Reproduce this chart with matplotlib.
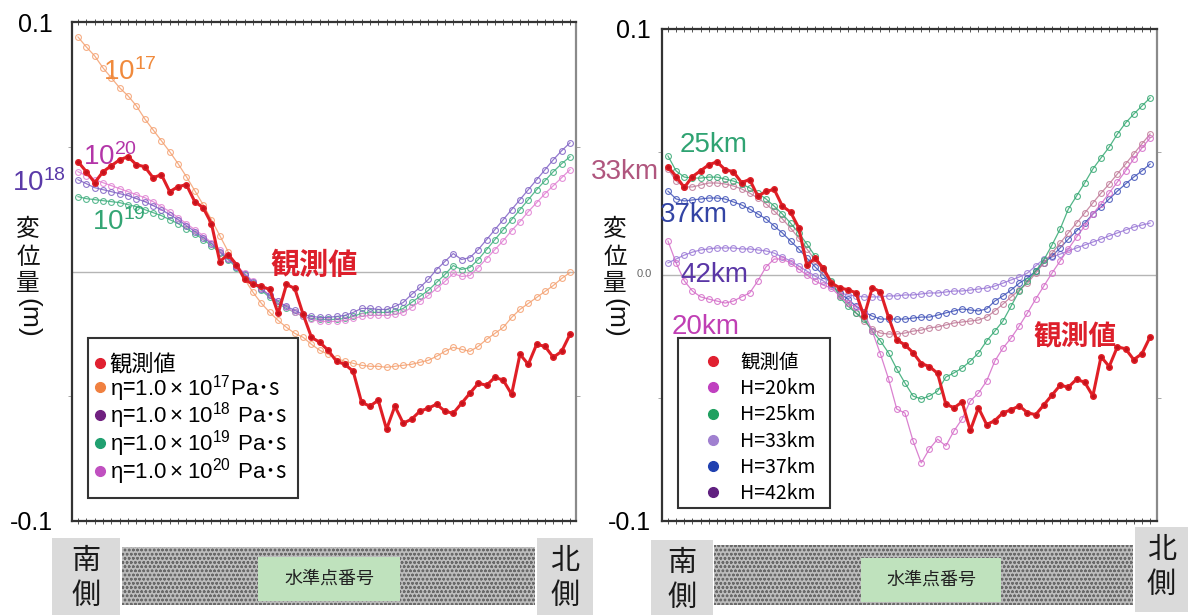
import numpy as np
import matplotlib
matplotlib.use("Agg")
import matplotlib.pyplot as plt
from matplotlib.lines import Line2D
from matplotlib.patches import Rectangle

plt.rcParams['font.family'] = ['Liberation Sans', 'Noto Sans CJK JP', 'DejaVu Sans']
plt.rcParams['mathtext.fontset'] = 'custom'
plt.rcParams['mathtext.rm'] = 'Liberation Sans'
plt.rcParams['mathtext.default'] = 'regular'
plt.rcParams['hatch.linewidth'] = 0.7

JP = 'Noto Sans CJK JP'

# vertical displacement at each leveling station, south -> north (mm)
observed = [44.0, 40.0, 35.6, 40.0, 42.4, 44.8, 46.0, 42.8, 42.0, 37.6,
            38.8, 32.0, 34.0, 34.8, 28.0, 25.6, 19.2, 4.0, 6.8, 2.8,
            -3.2, -5.2, -6.0, -7.2, -16.8, -5.2, -6.8, -17.2, -26.4, -28.4,
            -31.6, -36.0, -37.2, -40.0, -52.4, -54.0, -51.6, -63.2, -54.0, -60.8,
            -59.2, -56.0, -54.8, -53.2, -56.0, -56.8, -52.8, -48.8, -44.8, -45.6,
            -42.4, -43.6, -49.2, -33.2, -37.2, -29.2, -30.0, -34.4, -32.0, -25.2]

# viscosity runs (left panel)
visc_1e17 = [94.0, 90.0, 86.4, 81.6, 77.6, 73.6, 70.4, 66.4, 61.2, 56.8,
             52.4, 48.0, 43.2, 38.0, 32.4, 26.8, 20.8, 14.4, 8.0, 2.4,
             -3.2, -8.4, -12.8, -16.4, -19.6, -22.4, -24.8, -26.4, -29.2, -31.6,
             -33.2, -34.8, -36.0, -36.8, -37.6, -38.0, -38.0, -38.4, -38.0, -37.6,
             -37.2, -36.4, -35.6, -34.0, -32.0, -30.4, -31.2, -32.0, -30.0, -27.2,
             -24.8, -22.4, -18.4, -15.2, -12.8, -10.4, -8.0, -5.6, -2.8, -0.4]
visc_1e18 = [36.8, 35.2, 33.6, 32.8, 32.0, 31.2, 30.4, 29.2, 28.0, 26.4,
             24.8, 22.8, 20.8, 18.4, 16.0, 13.6, 11.2, 8.0, 5.2, 2.0,
             -1.2, -4.4, -7.2, -9.6, -12.0, -14.0, -15.6, -17.2, -18.0, -18.4,
             -18.4, -18.0, -17.6, -16.4, -14.8, -14.8, -15.2, -15.2, -14.0, -12.4,
             -9.2, -6.4, -3.2, 0.8, 4.0, 7.2, 4.8, 5.6, 8.8, 12.8,
             16.8, 20.8, 24.8, 28.8, 32.8, 36.8, 40.8, 44.8, 48.4, 51.6]
visc_1e19 = [30.0, 29.2, 28.8, 28.4, 28.0, 27.6, 26.8, 26.0, 24.8, 23.6,
             22.4, 20.8, 19.2, 17.2, 15.2, 12.8, 10.4, 7.6, 4.8, 1.6,
             -1.6, -4.8, -7.6, -10.4, -12.8, -14.8, -16.4, -18.0, -18.8, -19.2,
             -19.2, -19.2, -18.8, -18.0, -16.8, -16.4, -16.4, -16.4, -16.0, -14.8,
             -12.4, -10.0, -7.6, -4.4, -1.2, 2.4, 0.8, 1.6, 4.8, 8.8,
             12.8, 16.8, 20.8, 24.8, 28.8, 32.8, 36.4, 40.0, 43.2, 46.0]
visc_1e20 = [40.0, 38.4, 36.8, 35.6, 34.4, 33.2, 32.0, 30.8, 29.6, 28.0,
             26.0, 24.0, 21.6, 19.2, 16.8, 14.4, 11.6, 8.8, 5.6, 2.4,
             -0.8, -4.0, -6.8, -9.6, -12.0, -14.4, -16.4, -18.0, -19.2, -20.0,
             -20.0, -20.0, -19.6, -18.8, -18.0, -17.6, -17.6, -17.6, -17.2, -16.4,
             -14.4, -12.0, -9.6, -6.8, -4.0, -0.8, -2.0, -1.6, 1.6, 5.2,
             8.8, 12.4, 16.4, 20.0, 24.0, 27.6, 31.2, 34.4, 37.6, 40.8]

# depth runs (right panel)
depth_20 = [13.8, 4.9, -2.4, -6.5, -8.9, -9.8, -10.6, -11.4, -10.6, -8.9,
            -7.3, -2.4, 3.3, 6.5, 6.5, 4.9, 2.4, 0.0, -2.4, -4.1,
            -5.3, -8.5, -11.4, -13.0, -15.4, -22.8, -32.1, -42.3, -54.5, -56.1,
            -67.5, -76.4, -70.7, -66.7, -69.5, -63.4, -58.5, -51.2, -48.0, -43.1,
            -35.0, -29.7, -25.6, -20.7, -15.4, -9.8, -4.5, 0.8, 5.7, 10.6,
            15.4, 19.9, 24.8, 28.9, 33.3, 37.8, 42.3, 47.2, 51.6, 55.7]
depth_25 = [48.4, 42.3, 39.8, 39.4, 39.4, 39.8, 39.8, 39.0, 38.2, 37.0,
            35.4, 33.3, 30.9, 28.0, 24.8, 21.1, 17.1, 12.6, 7.7, 2.8,
            -2.4, -8.9, -12.6, -15.4, -17.9, -22.8, -26.8, -31.7, -38.2, -43.9,
            -49.2, -50.4, -49.2, -47.2, -41.5, -39.8, -37.8, -35.0, -31.7, -26.8,
            -22.8, -18.7, -12.6, -6.5, -2.4, 1.6, 6.1, 12.2, 18.7, 26.8,
            32.1, 37.4, 43.1, 47.6, 52.0, 57.3, 61.8, 65.4, 68.7, 72.0]
depth_33 = [43.1, 38.2, 35.8, 35.8, 36.6, 37.4, 37.4, 37.0, 36.2, 35.0,
            33.3, 31.3, 28.9, 26.0, 22.8, 19.1, 15.0, 10.6, 6.1, 1.6,
            -2.8, -8.1, -11.4, -15.4, -18.7, -22.0, -23.6, -24.0, -24.0, -23.6,
            -22.8, -22.4, -21.5, -21.1, -20.3, -19.5, -19.1, -18.7, -18.3, -17.1,
            -14.6, -11.8, -8.9, -6.1, -3.3, 0.8, 4.9, 8.9, 13.0, 17.1,
            21.1, 25.2, 29.3, 33.3, 37.0, 41.1, 45.1, 49.2, 53.3, 57.3]
depth_37 = [34.1, 30.9, 30.1, 30.5, 30.9, 31.3, 31.3, 30.9, 29.7, 28.5,
            26.8, 24.8, 22.8, 19.9, 17.1, 13.8, 10.6, 6.9, 3.3, 0.0,
            -3.7, -7.3, -9.8, -12.6, -15.0, -16.7, -17.9, -17.9, -17.9, -17.9,
            -17.5, -17.1, -17.1, -16.3, -15.4, -14.6, -13.8, -14.2, -14.6, -13.8,
            -10.6, -8.5, -6.1, -3.3, -1.2, 1.6, 4.9, 7.7, 11.0, 14.6,
            17.9, 21.1, 24.8, 27.6, 30.9, 34.1, 37.0, 39.8, 42.3, 45.1]
depth_42 = [4.9, 6.5, 8.1, 9.3, 10.2, 10.6, 11.0, 11.0, 11.0, 10.6,
            10.6, 10.2, 9.8, 8.9, 7.3, 5.7, 3.7, 1.6, -0.4, -2.4,
            -4.5, -7.3, -8.1, -8.5, -8.9, -8.9, -8.9, -8.5, -8.5, -8.1,
            -8.1, -7.7, -7.3, -7.3, -6.9, -6.5, -6.5, -6.1, -5.7, -5.3,
            -4.5, -3.3, -2.0, -0.8, 0.8, 3.7, 6.5, 7.3, 8.5, 9.8,
            11.0, 12.2, 13.4, 14.6, 15.9, 17.1, 18.3, 19.5, 20.3, 21.1]

visc_labels = ['観測値',
               r'$\mathrm{η}$=$\mathrm{1.0\times10^{17}Pa}$･s',
               r'$\mathrm{η}$=$\mathrm{1.0\times10^{18}\ Pa}$･s',
               r'$\mathrm{η}$=$\mathrm{1.0\times10^{19}\ Pa}$･s',
               r'$\mathrm{η}$=$\mathrm{1.0\times10^{20}\ Pa}$･s']
depth_labels = ['観測値', 'H=20km', 'H=25km', 'H=33km', 'H=37km', 'H=42km']

station = np.arange(len(observed))
W, H = 1188, 615

fig = plt.figure(figsize=(W / 100, H / 100), dpi=100)
axL = fig.add_axes([72 / W, 1 - 521 / H, 504 / W, 499 / H])
axR = fig.add_axes([662 / W, 1 - 521 / H, 495 / W, 492 / H])


def style_axis(ax, lo, hi, pad):
    ax.set_xlim(lo, hi)
    ax.set_ylim(-0.1, 0.1)
    ax.axhline(0, color='#b5b5b5', lw=1.0, zorder=1)
    ax.set_xticks(station)
    ax.tick_params(axis='x', direction='inout', length=5, width=0.7,
                   color='#555555', top=True, labelbottom=False)
    ax.set_yticks([-0.1, 0.1], ['-0.1', '0.1'])
    ax.set_yticks([-0.05, 0.05], minor=True)
    ax.tick_params(axis='y', which='major', labelsize=18, length=0, pad=pad)
    ax.tick_params(axis='y', which='minor', length=3, color='#999999', right=True)
    for s in ax.spines.values():
        s.set_color('#333333')
        s.set_linewidth(1.6)
    ax.spines['right'].set_color('#8a8a8a')


def model(ax, vals, color):
    ax.plot(station, np.asarray(vals) / 1000, color=color, lw=0.9, marker='o',
            ms=4.2, mfc='none', mew=0.8, alpha=0.85, zorder=2)


def obs(ax):
    ax.plot(station, np.asarray(observed) / 1000, color='#e01f26', lw=2.2,
            marker='o', ms=4, mfc='#c4121c', mec='#e01f26', zorder=4)


style_axis(axL, -0.72, 59.72, 14)
style_axis(axR, -0.73, 59.85, 8)

model(axL, visc_1e17, '#f4a070')
model(axL, visc_1e19, '#3fae7e')
model(axL, visc_1e20, '#e07fd2')
model(axL, visc_1e18, '#8062c4')
obs(axL)

model(axR, depth_42, '#9a78d6')
model(axR, depth_37, '#4052b8')
model(axR, depth_33, '#c07a98')
model(axR, depth_25, '#34a872')
model(axR, depth_20, '#d46cc8')
obs(axR)

# legends (marker-only entries)
hL = [Line2D([], [], ls='', marker='o', ms=7, color=c)
      for c in ['#e02030', '#f08040', '#702080', '#20a070', '#c050c0']]
axL.legend(hL, visc_labels, loc='upper left', bbox_to_anchor=(0.045, 0.337),
           frameon=False, borderpad=0, borderaxespad=0, handlelength=0.5,
           handletextpad=0.18, labelspacing=-0.14, prop={'family': JP, 'size': 16})
hR = [Line2D([], [], ls='', marker='o', ms=7, color=c)
      for c in ['#e02030', '#c040c0', '#20a060', '#a080d0', '#2040b0', '#602080']]
axR.legend(hR, depth_labels, loc='upper left', bbox_to_anchor=(0.0834, 0.3435),
           frameon=False, borderpad=0, borderaxespad=0, handlelength=1.0,
           handletextpad=0.89, labelspacing=0.27, prop={'family': JP, 'size': 14})

# overlay in pixel units for annotations and the station strip
ov = fig.add_axes([0, 0, 1, 1], zorder=5)
ov.set_xlim(0, W)
ov.set_ylim(H, 0)
ov.axis('off')
ov.patch.set_visible(False)

ov.add_patch(Rectangle((88, 338), 210, 160, fc='none', ec='#333333', lw=1.5))
ov.add_patch(Rectangle((678, 338), 152, 170, fc='none', ec='#333333', lw=1.5))

# zero label of the right panel
ov.text(652, 274, '0.0', fontsize=8, color='#666666', ha='right', va='center')

# curve labels, left panel
for x, y, s, c in [(103, 72, '10$^{17}$', '#f08a3c'),
                   (83, 157, '10$^{20}$', '#b335a8'),
                   (12, 183, '10$^{18}$', '#5a3aa8'),
                   (92, 222, '10$^{19}$', '#33a574')]:
    ov.text(x, y, s, color=c, fontsize=20, family='Liberation Sans', ha='left', va='center')
ov.text(270, 265, '観測値', color='#dd1f2b', fontsize=21, family=JP,
        fontweight='bold', ha='left', va='center')

# curve labels, right panel
for x, y, s, c in [(680, 145, '25km', '#2fa372'),
                   (591, 172, '33km', '#b0567e'),
                   (660, 215, '37km', '#3344a4'),
                   (680, 275, '42km', '#5a36a6'),
                   (672, 327, '20km', '#c03fb4')]:
    ov.text(x, y, s, color=c, fontsize=20, family='Liberation Sans', ha='left', va='center')
ov.text(1033, 336, '観測値', color='#dd1f2b', fontsize=20, family=JP,
        fontweight='bold', ha='left', va='center')

# vertical axis titles
for x0 in (28, 615):
    for y, ch in [(230, '変'), (257, '位'), (283, '量')]:
        ov.text(x0, y, ch, fontsize=17, family=JP, ha='center', va='center', color='#111111')
    ov.text(x0, 318, '(m)', fontsize=19, rotation=270, ha='center', va='center', color='#111111')

# station-number strips under each panel
strips = [dict(south=(52, 538, 68, 77), band=(122, 547, 413, 58),
               tag=(258, 557, 142, 44), north=(537, 538, 56, 77)),
          dict(south=(651, 540, 62, 75), band=(714, 545, 419, 60),
               tag=(861, 558, 140, 44), north=(1135, 527, 53, 85))]
for st in strips:
    x, y, w, h = st['band']
    ov.add_patch(Rectangle((x, y), w, h, fc='#bdbdbd', ec='#6a6a6a', lw=0, hatch='oooo'))
    x, y, w, h = st['tag']
    ov.add_patch(Rectangle((x, y), w, h, fc='#bfe2bd', ec='none'))
    ov.text(x + w / 2, y + h / 2, '水準点番号', fontsize=13, family=JP,
            ha='center', va='center', color='#222222')
    for key, (c1, c2) in [('south', ('南', '側')), ('north', ('北', '側'))]:
        x, y, w, h = st[key]
        ov.add_patch(Rectangle((x, y), w, h, fc='#dadada', ec='none'))
        ov.text(x + w / 2, y + 23, c1, fontsize=21, family=JP, ha='center', va='center', color='#1a1a1a')
        ov.text(x + w / 2, y + 58, c2, fontsize=21, family=JP, ha='center', va='center', color='#1a1a1a')

fig.savefig('out.png', dpi=100)
